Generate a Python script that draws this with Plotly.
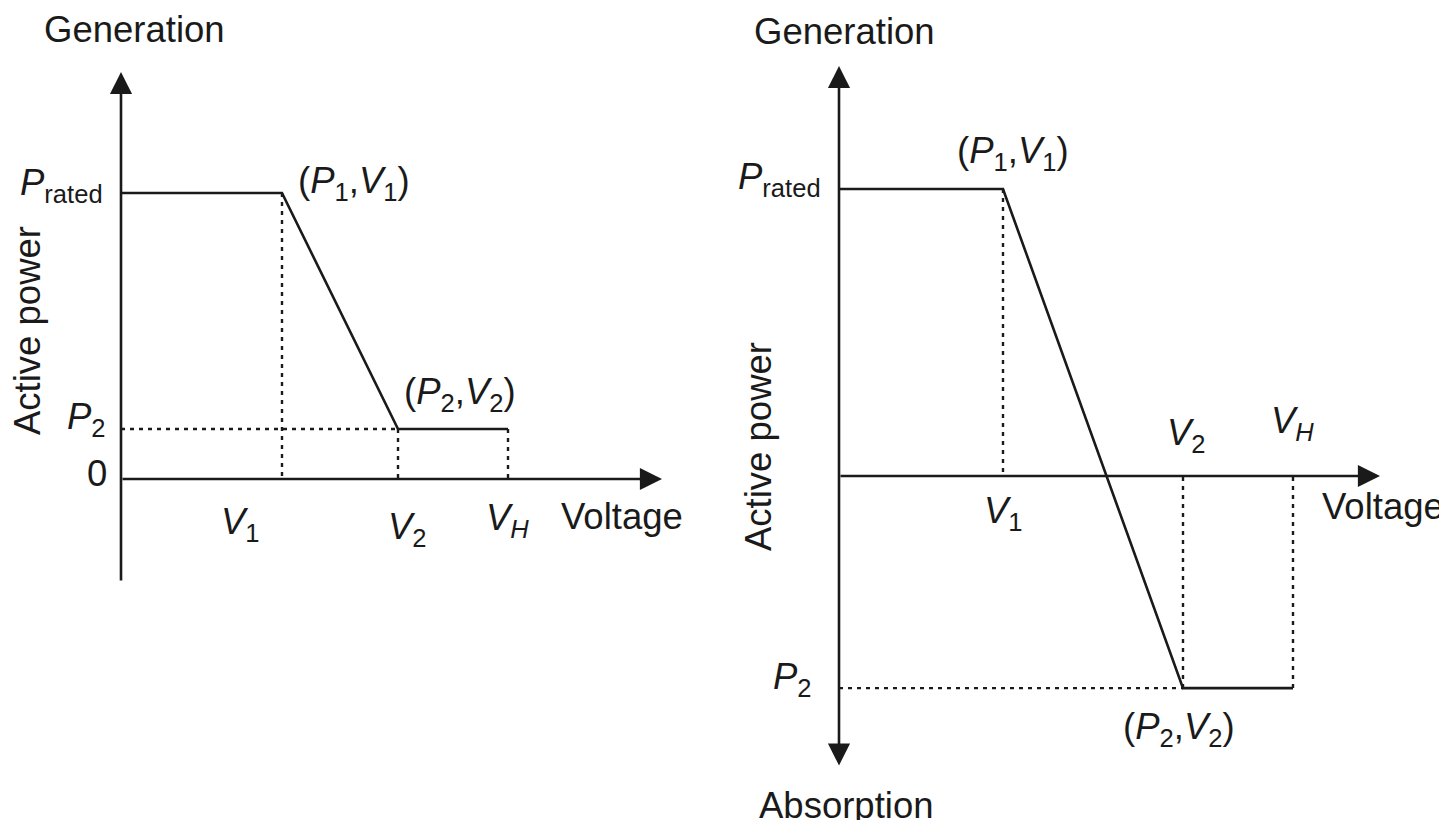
import plotly.graph_objects as go

# ---------------- data (conceptual units) ----------------
# Left panel: curtailment only down to P2 >= 0
left_V = {"V1": 1.61, "V2": 2.77, "VH": 3.87}
left_P = {"Prated": 1.0, "P2": 0.175}
left_axis = {"x_end": 5.41, "y_top": 1.423, "y_bottom": -0.36}

# Right panel: droop continues into absorption, P2 < 0
right_V = {"V1": 1.64, "V2": 3.44, "VH": 4.54}
right_P = {"Prated": 1.0, "P2": -0.739}
right_axis = {"x_end": 5.41, "y_top": 1.429, "y_bottom": -1.014}

FONT = "Liberation Sans, Arial, Helvetica, sans-serif"
INK = "#1a1a1a"
FS = 36.5
DOT = "4px,5px"

fig = go.Figure()

def panel(V, P, xr, yr):
    # characteristic: Prated flat until V1, droop to (P2,V2), flat until VH
    xs = [0, V["V1"], V["V2"], V["VH"]]
    ys = [P["Prated"], P["Prated"], P["P2"], P["P2"]]
    fig.add_trace(go.Scatter(x=xs, y=ys, mode="lines", xaxis=xr, yaxis=yr,
                             line=dict(color=INK, width=2.6), showlegend=False,
                             hoverinfo="skip"))
    # dotted guide lines
    guides = [
        ([V["V1"], V["V1"]], [P["Prated"], 0]),
        ([0, V["V2"]], [P["P2"], P["P2"]]),
        ([V["V2"], V["V2"]], [P["P2"], 0]),
        ([V["VH"], V["VH"]], [P["P2"], 0]),
    ]
    for gx, gy in guides:
        fig.add_trace(go.Scatter(x=gx, y=gy, mode="lines", xaxis=xr, yaxis=yr,
                                 line=dict(color=INK, width=2.4, dash=DOT),
                                 showlegend=False, hoverinfo="skip"))

panel(left_V, left_P, "x", "y")
panel(right_V, right_P, "x2", "y2")

ann = []

def arrow(x, y, ax, ay, xr, yr, side="end"):
    ann.append(dict(x=x, y=y, ax=ax, ay=ay, xref=xr, yref=yr, axref=xr, ayref=yr,
                    text="", showarrow=True, arrowhead=2, arrowsize=1.7,
                    arrowwidth=2.6, arrowcolor=INK, arrowside=side, standoff=0,
                    startstandoff=0))

# left axes
arrow(left_axis["x_end"], 0, 0, 0, "x", "y")
arrow(0, left_axis["y_top"], 0, left_axis["y_bottom"], "x", "y")
# right axes
arrow(right_axis["x_end"], 0, 0, 0, "x2", "y2")
arrow(0, right_axis["y_top"], 0, right_axis["y_bottom"], "x2", "y2", side="end+start")

def label(text, x, y, xr, yr, xanchor="center", yanchor="middle", xs=0, ys=0, angle=0, size=FS):
    ann.append(dict(text=text, x=x, y=y, xref=xr, yref=yr, showarrow=False,
                    xanchor=xanchor, yanchor=yanchor, xshift=xs, yshift=ys,
                    textangle=angle, font=dict(family=FONT, size=size, color=INK)))

Pr = "<i>P</i><sub>rated</sub>"
def V(s):
    return "<i>V</i><sub>%s</sub>" % s
def VI(s):
    return "<i>V</i><sub><i>%s</i></sub>" % s
P1V1 = "(<i>P</i><sub>1</sub>,<i>V</i><sub>1</sub>)"
P2V2 = "(<i>P</i><sub>2</sub>,<i>V</i><sub>2</sub>)"
P2 = "<i>P</i><sub>2</sub>"

# ---- left labels ----
label("Generation", 0, left_axis["y_top"], "x", "y", yanchor="bottom", xs=13, ys=20)
label(Pr, 0, left_P["Prated"], "x", "y", xanchor="right", xs=-16, ys=8)
label(P2, 0, left_P["P2"], "x", "y", xanchor="right", xs=-13, ys=10)
label("0", 0, 0, "x", "y", xanchor="right", xs=-12, ys=6)
label(V("1"), left_V["V1"], 0, "x", "y", yanchor="top", xs=-42, ys=-20)
label(V("2"), left_V["V2"], 0, "x", "y", yanchor="top", xs=9, ys=-25)
label(VI("H"), left_V["VH"], 0, "x", "y", yanchor="top", xs=-1, ys=-16)
label("Voltage", left_axis["x_end"], 0, "x", "y", xanchor="left", yanchor="top", xs=-103, ys=-15)
label(P1V1, left_V["V1"], left_P["Prated"], "x", "y", xanchor="left", yanchor="bottom", xs=14, ys=-15)
label(P2V2, left_V["V2"], left_P["P2"], "x", "y", xanchor="left", yanchor="bottom", xs=4, ys=10)
label("Active power", 0, 0.5 * (left_P["Prated"] + left_P["P2"]), "x", "y", xs=-93, ys=-20, angle=-90)

# ---- right labels ----
label("Generation", 0, right_axis["y_top"], "x2", "y2", yanchor="bottom", xs=5, ys=12)
label(Pr, 0, right_P["Prated"], "x2", "y2", xanchor="right", xs=-16, ys=10)
label(P1V1, right_V["V1"], right_P["Prated"], "x2", "y2", xanchor="center", yanchor="bottom", xs=10, ys=11)
label("Active power", 0, 0, "x2", "y2", xs=-81, ys=29, angle=-90)
label(V("1"), right_V["V1"], 0, "x2", "y2", yanchor="top", xs=0, ys=-12)
label(V("2"), right_V["V2"], 0, "x2", "y2", yanchor="bottom", xs=3, ys=16)
label(VI("H"), right_V["VH"], 0, "x2", "y2", yanchor="bottom", xs=-1, ys=28)
label("Voltage", right_axis["x_end"], 0, "x2", "y2", xanchor="left", yanchor="top", xs=-60, ys=-8)
label(P2, 0, right_P["P2"], "x2", "y2", xanchor="right", xs=-25, ys=9)
label(P2V2, right_V["V2"], right_P["P2"], "x2", "y2", xanchor="left", yanchor="top", xs=-62, ys=-16)
label("Absorption", 0, right_axis["y_bottom"], "x2", "y2", yanchor="top", xs=7, ys=-16)

fig.update_layout(annotations=ann)

# The page body has an 8 px margin, so the figure is 8 px smaller than the window
# and its pixel frame is shifted by 8 px.
W, H = 1439, 812
OFF = 8
# left panel: origin at window px (121, 479), 100 px per volt-unit, 286 px per power-unit
lx0, ly0, lsy = 121 - OFF, 479 - OFF, 286
# right panel: origin at window px (839, 476), 100 px per volt-unit, 287 px per power-unit
rx0, ry0, rsy = 839 - OFF, 476 - OFF, 287
half = W / 2
fig.update_layout(
    width=W, height=H, margin=dict(l=0, r=0, t=0, b=0, autoexpand=False),
    paper_bgcolor="white", plot_bgcolor="white",
    xaxis=dict(domain=[0, 0.5], range=[-lx0 / 100, (half - lx0) / 100], visible=False, fixedrange=True),
    yaxis=dict(domain=[0, 1], range=[-(H - ly0) / lsy, ly0 / lsy], visible=False, fixedrange=True),
    xaxis2=dict(domain=[0.5, 1], range=[-(rx0 - half) / 100, (W - rx0) / 100], visible=False,
                fixedrange=True, anchor="y2"),
    yaxis2=dict(domain=[0, 1], range=[-(H - ry0) / rsy, ry0 / rsy], visible=False,
                fixedrange=True, anchor="x2"),
    showlegend=False,
)

fig.write_html("out.html")
